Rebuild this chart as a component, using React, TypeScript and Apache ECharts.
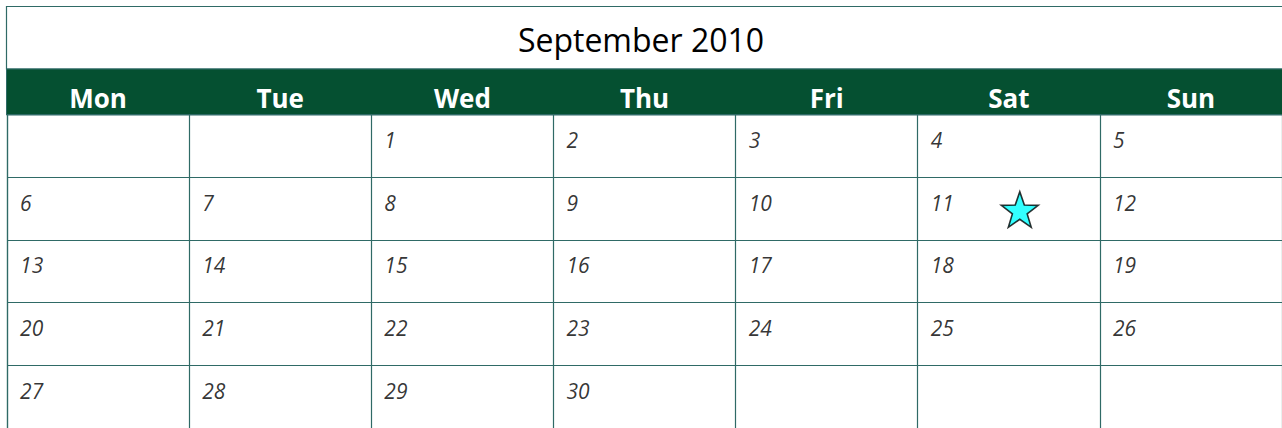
import React, { useEffect, useRef } from "react";
import * as echarts from "echarts";

const titleText = "September 2010";
const weekdays = ["Mon", "Tue", "Wed", "Thu", "Fri", "Sat", "Sun"];
const weekRows = ["W1", "W2", "W3", "W4", "W5"];
const week1 = [null, null, 1, 2, 3, 4, 5];
const week2 = [6, 7, 8, 9, 10, 11, 12];
const week3 = [13, 14, 15, 16, 17, 18, 19];
const week4 = [20, 21, 22, 23, 24, 25, 26];
const week5 = [27, 28, 29, 30, null, null, null];
const weeks = [week1, week2, week3, week4, week5];
const markedDays = [11];

const LINE = "#2f6a66";
const GREEN = "#055031";

function starPath(): string {
  const pts: string[] = [];
  for (let k = 0; k < 10; k++) {
    const a = ((-90 + 36 * k) * Math.PI) / 180;
    const r = k % 2 === 0 ? 100 : 40;
    pts.push(`${(r * Math.cos(a)).toFixed(2)} ${(r * Math.sin(a)).toFixed(2)}`);
  }
  return "path://M" + pts.join(" L") + " Z";
}

export default function App() {
  const ref = useRef<HTMLDivElement>(null);
  useEffect(() => {
    if (!ref.current) return;
    const chart = echarts.init(ref.current, undefined, { renderer: "svg" });
    const dayData: any[] = [];
    const starData: any[] = [];
    weeks.forEach((w, r) => {
      w.forEach((d, c) => {
        if (d !== null) {
          dayData.push([c, r, d]);
          if (markedDays.includes(d)) starData.push([c, r, d]);
        }
      });
    });
    chart.setOption({
      animation: false,
      backgroundColor: "#ffffff",
      title: {
        text: titleText,
        left: "center",
        top: 18,
        textStyle: {
          fontFamily: "Open Sans",
          fontWeight: "normal",
          fontSize: 32,
          color: "#000000",
        },
      },
      graphic: [
        {
          type: "rect",
          z: -2,
          shape: { x: 6.5, y: 6.5, width: 1290, height: 62.5 },
          style: { fill: "#ffffff", stroke: LINE, lineWidth: 1.2 },
        },
        {
          type: "rect",
          z: -1,
          shape: { x: 6.5, y: 69, width: 1290, height: 46 },
          style: { fill: GREEN, stroke: LINE, lineWidth: 1 },
        },
      ],
      grid: { left: 7, right: -2.5, top: 114.5, bottom: -3.5 },
      xAxis: {
        type: "category",
        data: weekdays,
        position: "top",
        axisLine: { show: true, lineStyle: { color: LINE, width: 1.2 } },
        axisTick: { show: false },
        axisLabel: {
          color: "#ffffff",
          fontFamily: "Open Sans",
          fontWeight: "bold",
          fontSize: 26,
          margin: 16.5,
          verticalAlign: "middle",
          interval: 0,
        },
        splitLine: { show: true, interval: 0, lineStyle: { color: LINE, width: 1.2 } },
      },
      yAxis: {
        type: "category",
        data: weekRows,
        inverse: true,
        axisLine: { show: true, lineStyle: { color: LINE, width: 1.2 } },
        axisTick: { show: false },
        axisLabel: { show: false },
        splitLine: { show: true, interval: 0, lineStyle: { color: LINE, width: 1.2 } },
      },
      series: [
        {
          type: "scatter",
          data: dayData,
          symbolSize: 1,
          itemStyle: { color: "transparent" },
          label: {
            show: true,
            position: "inside",
            offset: [-78, -6],
            align: "left",
            verticalAlign: "middle",
            formatter: (p: any) => String(p.value[2]),
            fontFamily: "Open Sans",
            fontStyle: "italic",
            fontSize: 21,
            color: "#000000",
          },
          silent: true,
        },
        {
          type: "scatter",
          data: starData,
          symbol: starPath(),
          symbolSize: [37, 35.5],
          symbolOffset: [11, 1],
          itemStyle: { color: "#00ffff", borderColor: "#000000", borderWidth: 1.6 },
          silent: true,
        },
      ],
    });
    return () => chart.dispose();
  }, []);
  return (
    <div
      ref={ref}
      style={{ position: "fixed", left: 0, top: 0, width: 1282, height: 428 }}
    />
  );
}
